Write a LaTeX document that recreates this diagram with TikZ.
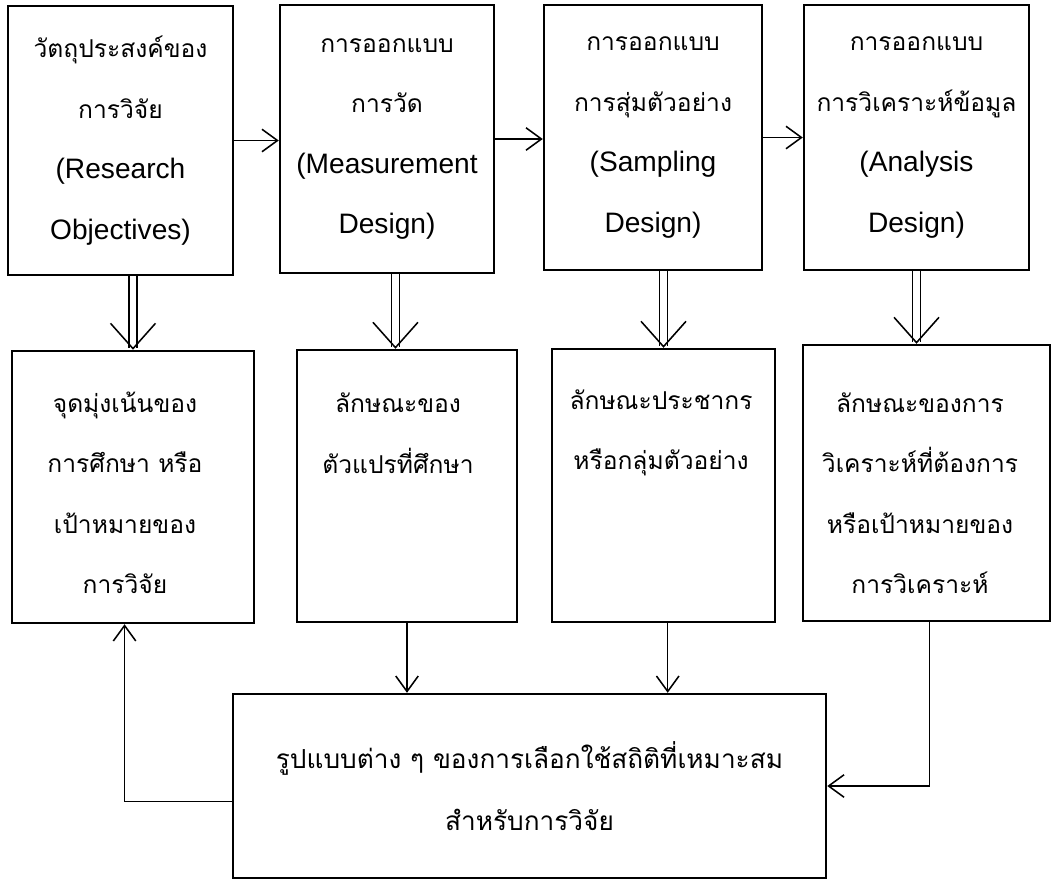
\documentclass[tikz,border=0pt]{standalone}
\usepackage{fontspec}
\setmainfont{Liberation Sans}
\newfontfamily\thaifont[Script=Thai,Scale=0.875]{Loma}
\usetikzlibrary{arrows.meta,positioning,calc}
\newcommand{\thx}[1]{{\thaifont #1}}
\tikzset{
    box/.style={draw, line width=1.7pt, inner sep=0pt, align=center, font=\fontsize{20}{43}\selectfont},
    txt/.style={align=center, inner sep=0pt, font=\fontsize{20}{43}\selectfont},
    arr/.style={line width=1pt, -{Straight Barb[length=11pt,width=16pt,line width=1.1pt]}},
    dbl/.style={double, double distance=4.5pt, line width=1pt, -{Straight Barb[length=18pt,width=32pt,line width=1.1pt]}},
}
\begin{document}
\begin{tikzpicture}[x=0.025cm,y=-0.025cm]
    \useasboundingbox (0,0) rectangle (1060,882);
    % top row
    \node[box, minimum width=5.625cm, minimum height=6.725cm] (obj) at (120.5,140.5)
        {\thx{วัตถุประสงค์ของ}\\\thx{การวิจัย}\\(Research\\Objectives)};
    \node[box, minimum width=5.35cm, minimum height=6.7cm] (meas) at (387,139)
        {\thx{การออกแบบ}\\\thx{การวัด}\\(Measurement\\Design)};
    \node[box, minimum width=5.45cm, minimum height=6.625cm] (samp) at (653,137.5)
        {\thx{การออกแบบ}\\\thx{การสุ่มตัวอย่าง}\\(Sampling\\Design)};
    \node[box, minimum width=5.625cm, minimum height=6.625cm] (anal) at (916.5,137.5)
        {\thx{การออกแบบ}\\\thx{การวิเคราะห์ข้อมูล}\\(Analysis\\Design)};
    % middle row
    \node[box, minimum width=6.05cm, minimum height=6.8cm] (focus) at (133,487) {};
    \node[box, minimum width=5.5cm, minimum height=6.8cm] (var) at (407,486) {};
    \node[box, minimum width=5.575cm, minimum height=6.825cm] (pop) at (663.5,485.5) {};
    \node[box, minimum width=6.175cm, minimum height=6.9cm] (goal) at (926.5,483) {};
    \node[txt] (focust) at (125,493) {\thx{จุดมุ่งเน้นของ}\\\thx{การศึกษา หรือ}\\\thx{เป้าหมายของ}\\\thx{การวิจัย}};
    \node[txt] (vart) at (398,433) {\thx{ลักษณะของ}\\\thx{ตัวแปรที่ศึกษา}};
    \node[txt] (popt) at (661,433) {\thx{ลักษณะประชากร}\\\thx{หรือกลุ่มตัวอย่าง}};
    \node[txt] (goalt) at (920,493) {\thx{ลักษณะของการ}\\\thx{วิเคราะห์ที่ต้องการ}\\\thx{หรือเป้าหมายของ}\\\thx{การวิเคราะห์}};
    % bottom
    \node[box, minimum width=14.825cm, minimum height=4.6cm, font=\fontsize{21.3}{44}\selectfont] (stat) at (529.5,786)
        {\thx{รูปแบบต่าง ๆ ของการเลือกใช้สถิติที่เหมาะสม}\\\thx{สำหรับการวิจัย}};
    % connectors
    \draw[arr] (obj.east) -- (obj.east -| meas.west);
    \draw[arr] (meas.east) -- (meas.east -| samp.west);
    \draw[arr] (samp.east) -- (samp.east -| anal.west);
    \draw[dbl] (obj.south -| focus.north) -- (focus.north);
    \draw[dbl] ([xshift=6pt]meas.south) -- ([xshift=6pt]meas.south |- var.north);
    \draw[dbl] (samp.south -| pop.north) -- (pop.north);
    \draw[dbl] (anal.south) -- (anal.south |- goal.north);
    \draw[arr] (var.south) -- (var.south |- stat.north);
    \draw[arr] ([xshift=3pt]pop.south) -- ([xshift=3pt]pop.south |- stat.north);
    \draw[arr] ([xshift=2pt]goal.south) |- (stat.east);
    \draw[arr] ([yshift=-11pt]stat.west) -| ([xshift=-6pt]focus.south);
\end{tikzpicture}
\end{document}
